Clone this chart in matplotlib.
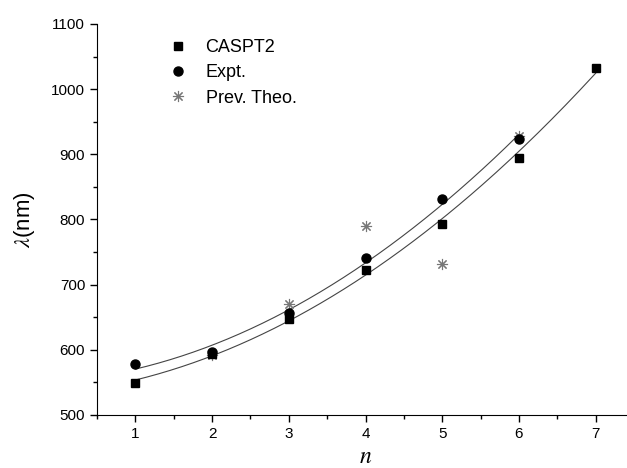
import numpy as np
import matplotlib
matplotlib.use("Agg")
import matplotlib.pyplot as plt
from matplotlib.ticker import MultipleLocator

plt.rcParams['font.family'] = ['Liberation Sans', 'DejaVu Sans']
plt.rcParams['mathtext.fontset'] = 'stix'

# dados
n_caspt2 = [1, 2, 3, 4, 5, 6, 7]
lam_caspt2 = [549, 594, 648, 723, 793, 894, 1033]
n_expt = [1, 2, 3, 4, 5, 6]
lam_expt = [578, 596, 656, 741, 831, 924]
n_prev = [2, 3, 4, 5, 6]
lam_prev = [592, 671, 790, 731, 928]

fig = plt.figure(figsize=(6.27, 4.68), dpi=100)
ax = fig.add_axes([97/627, 1 - 415/468, (634 - 97)/627, (415 - 24)/468])

# curvas ajustadas
for xs, ys in [(n_caspt2, lam_caspt2), (n_expt, lam_expt)]:
    c = np.polyfit(xs, ys, 2)
    xf = np.linspace(min(xs), max(xs), 200)
    ax.plot(xf, np.polyval(c, xf), color='#444444', lw=0.8, zorder=1)

ax.plot(n_caspt2, lam_caspt2, 's', color='black', ms=5.5, ls='none', label='CASPT2', zorder=3)
ax.plot(n_expt, lam_expt, 'o', color='black', ms=6.5, ls='none', label='Expt.', zorder=3)
ax.plot(n_prev, lam_prev, marker=(8, 2, 0), color='#777777', ms=8, mew=0.8, ls='none',
        label='Prev. Theo.', zorder=2)

ax.set_xlim(0.5, 7.5)
ax.set_ylim(500, 1100)
ax.xaxis.set_major_locator(MultipleLocator(1))
ax.xaxis.set_minor_locator(MultipleLocator(0.5))
ax.yaxis.set_major_locator(MultipleLocator(100))
ax.yaxis.set_minor_locator(MultipleLocator(50))
ax.tick_params(which='major', direction='out', length=5, width=1, labelsize=11)
ax.tick_params(which='minor', direction='out', length=3, width=1)
ax.spines['top'].set_visible(False)
ax.spines['right'].set_visible(False)

ax.set_xlabel('$n$', fontsize=17, labelpad=4)
ax.set_ylabel(r'$\lambda$(nm)', fontsize=16, labelpad=10)

ax.legend(loc='upper left', bbox_to_anchor=(0.118, 0.984), frameon=False, fontsize=13,
          handlelength=1.0, handletextpad=1.0, labelspacing=0.45, borderpad=0)

fig.savefig('out.png', dpi=100)
